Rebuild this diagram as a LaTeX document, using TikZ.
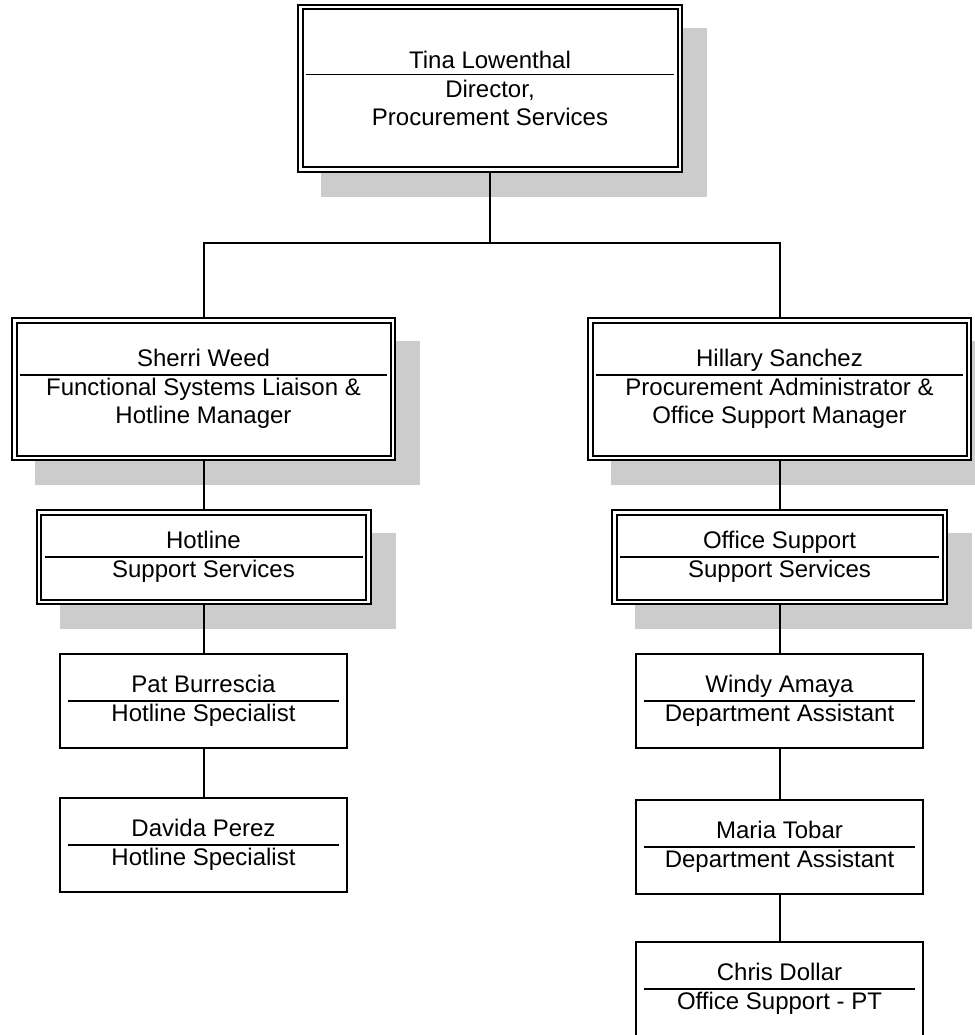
\documentclass[tikz,border=0pt]{standalone}
\usepackage{fontspec}
\setmainfont{Liberation Sans}
\usetikzlibrary{positioning, backgrounds}
\tikzstyle{head}=[rectangle, draw, fill=white, line width=2pt, double, double distance=2.5pt,
                  outer sep=3.25pt, inner sep=0pt, align=center,
                  % The text
                  font=\fontsize{24}{28.5}\selectfont]
\tikzstyle{staff}=[rectangle, draw, fill=white, line width=2pt, outer sep=1pt, inner sep=0pt,
                   minimum width=287pt, minimum height=94pt, align=center,
                   font=\fontsize{24}{28.5}\selectfont]
\tikzstyle{link}=[line width=2pt]
\tikzstyle{rule}=[line width=1.5pt]
\tikzstyle{shade}=[fill=black!20]

\begin{document}
\begin{tikzpicture}[x=1pt, y=-1pt]
  \useasboundingbox (0,0) rectangle (974,1035);

  % Director and the two managers
  \node[head, minimum width=379.5pt, minimum height=162.5pt] (tina) at (490,88.5)
    {Tina Lowenthal\\Director,\\Procurement Services};
  \node[head, minimum width=378.5pt, minimum height=137.5pt] (sherri) at (203.5,389)
    {Sherri Weed\\Functional Systems Liaison \&\\Hotline Manager};
  \node[head, minimum width=378.5pt, minimum height=137.5pt] (hillary) at (779.5,389)
    {Hillary Sanchez\\Procurement Administrator \&\\Office Support Manager};

  % Units below the managers
  \node[head, minimum width=329.5pt, minimum height=89.5pt, below = 48pt of sherri] (hotline)
    {Hotline\\Support Services};
  \node[head, minimum width=330.5pt, minimum height=89.5pt, below = 48pt of hillary] (offsup)
    {Office Support\\Support Services};

  % Staff
  \node[staff, below = 48pt of hotline] (pat) {Pat Burrescia\\Hotline Specialist};
  \node[staff, below = 48pt of pat] (davida) {Davida Perez\\Hotline Specialist};
  \node[staff, below = 48pt of offsup] (windy) {Windy Amaya\\Department Assistant};
  \node[staff, below = 50pt of windy] (maria) {Maria Tobar\\Department Assistant};
  \node[staff, below = 46pt of maria] (chris) {Chris Dollar\\Office Support - PT};

  % Shadows behind the unit boxes
  \begin{scope}[on background layer]
    \fill[shade] ([shift={(24pt,-24pt)}]tina.north west) rectangle ([shift={(24pt,-24pt)}]tina.south east);
    \fill[shade] ([shift={(24pt,-24pt)}]sherri.north west) rectangle ([shift={(24pt,-24pt)}]sherri.south east);
    \fill[shade] ([shift={(24pt,-24pt)}]hillary.north west) rectangle ([shift={(24pt,-24pt)}]hillary.south east);
    \fill[shade] ([shift={(24pt,-24pt)}]hotline.north west) rectangle ([shift={(24pt,-24pt)}]hotline.south east);
    \fill[shade] ([shift={(24pt,-24pt)}]offsup.north west) rectangle ([shift={(24pt,-24pt)}]offsup.south east);
  \end{scope}

  % Lines between name and title
  \draw[rule] ([xshift=9pt, yshift=14pt]tina.west) -- ([xshift=-9pt, yshift=14pt]tina.east);
  \draw[rule] ([xshift=9pt, yshift=14pt]sherri.west) -- ([xshift=-9pt, yshift=14pt]sherri.east);
  \draw[rule] ([xshift=9pt, yshift=14pt]hillary.west) -- ([xshift=-9pt, yshift=14pt]hillary.east);
  \draw[rule] ([xshift=9pt]hotline.west) -- ([xshift=-9pt]hotline.east);
  \draw[rule] ([xshift=9pt]offsup.west) -- ([xshift=-9pt]offsup.east);
  \draw[rule] ([xshift=9pt]pat.west) -- ([xshift=-9pt]pat.east);
  \draw[rule] ([xshift=9pt]davida.west) -- ([xshift=-9pt]davida.east);
  \draw[rule] ([xshift=9pt]windy.west) -- ([xshift=-9pt]windy.east);
  \draw[rule] ([xshift=9pt]maria.west) -- ([xshift=-9pt]maria.east);
  \draw[rule] ([xshift=9pt]chris.west) -- ([xshift=-9pt]chris.east);

  % Connectors
  \coordinate (bus) at (490,243);
  \draw[link] (tina.south) -- (bus) -| (sherri.north);
  \draw[link] (bus) -| (hillary.north);
  \draw[link] (sherri.south) -- (hotline.north);
  \draw[link] (hotline.south) -- (pat.north);
  \draw[link] (pat.south) -- (davida.north);
  \draw[link] (hillary.south) -- (offsup.north);
  \draw[link] (offsup.south) -- (windy.north);
  \draw[link] (windy.south) -- (maria.north);
  \draw[link] (maria.south) -- (chris.north);

\end{tikzpicture}
\end{document}
